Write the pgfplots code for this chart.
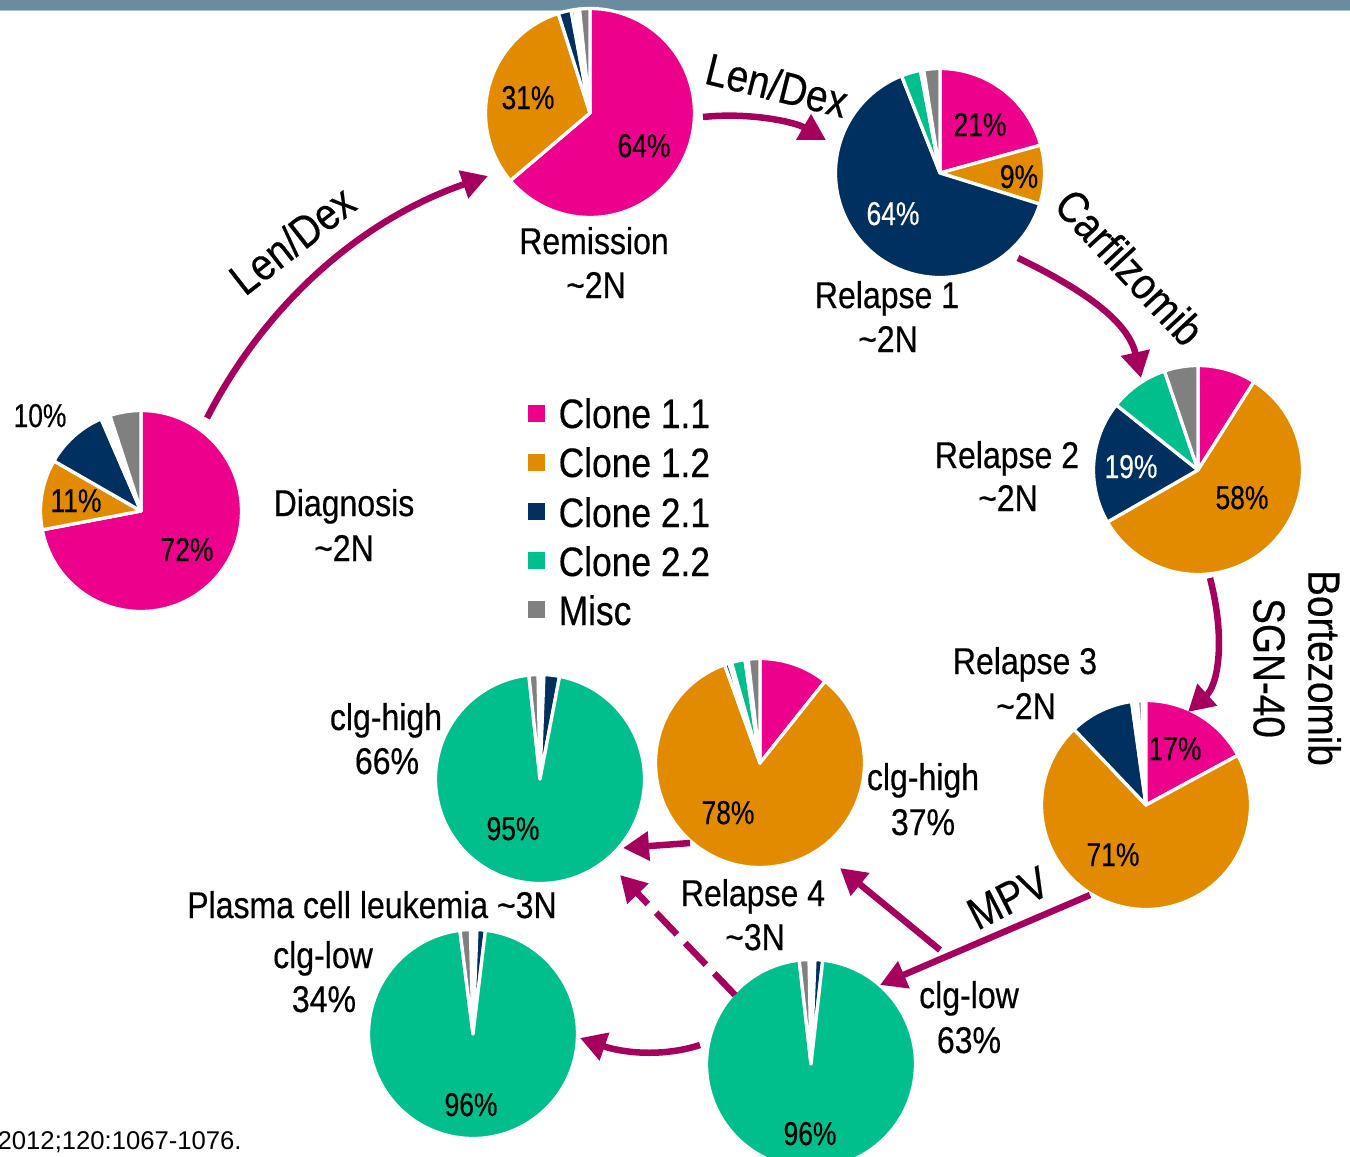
\documentclass[border=0pt]{standalone}
\usepackage{pgfplots}
\pgfplotsset{compat=1.18}
\usepackage{fontspec}
\setmainfont{Liberation Sans}[FakeStretch=0.86,FakeBold=0.4]
\newfontfamily\pctfont{Liberation Sans}[FakeStretch=0.8,FakeBold=0.4]
\newfontfamily\reffont{Liberation Sans}
\usetikzlibrary{arrows.meta}
\definecolor{cpink}{HTML}{EC008C}
\definecolor{corange}{HTML}{E38B00}
\definecolor{cnavy}{HTML}{00305F}
\definecolor{cteal}{HTML}{00BF8C}
\definecolor{cgray}{HTML}{808080}
\definecolor{carrow}{HTML}{A6005F}
\definecolor{cbar}{HTML}{6A8CA1}
\tikzset{
  lbl/.style={font=\fontsize{10.6}{13}\selectfont},
  pct/.style={font=\pctfont\fontsize{9.4}{10}\selectfont},
  trt/.style={font=\fontsize{12.8}{15.6}\selectfont},
  leg/.style={font=\fontsize{11.7}{14}\selectfont},
  arr/.style={draw=carrow,line width=0.65mm,-{Triangle[length=2.6mm,width=2.8mm]}}
}
% pie: centre x, centre y (axis units), radius, list of value/colour clockwise from 12 o'clock
\newcommand\piechart[4]{%
  \gdef\pieacc{0}%
  \foreach \v/\c in {#4}{%
    \pgfmathsetmacro\pa{90-3.6*\pieacc}%
    \pgfmathsetmacro\pb{90-3.6*(\pieacc+\v)}%
    \fill[fill=\c,draw=white,line width=0.33mm,line join=round]
      (axis cs:#1,#2) -- ([shift={(\pa:#3)}]axis cs:#1,#2)
      arc[start angle=\pa,end angle=\pb,radius=#3] -- cycle;
    \pgfmathsetmacro\pn{\pieacc+\v}%
    \xdef\pieacc{\pn}%
  }}
\begin{document}
\begin{tikzpicture}
\begin{axis}[scale only axis,width=135mm,height=115.7mm,
  xmin=0,xmax=1350,ymin=0,ymax=1157,y dir=reverse,hide axis,clip=true]
% top bar
\fill[cbar] (axis cs:0,0) rectangle (axis cs:1350,9.5);
\fill[cbar!55] (axis cs:0,9.5) rectangle (axis cs:1350,11);
\pgfplotsextra{%
  % Diagnosis
  \piechart{141}{511}{10.05mm}{72/cpink,11.3/corange,10.2/cnavy,0.5/cteal,1.0/white,5.0/cgray}%
  % Remission
  \piechart{590}{113}{10.45mm}{63.8/cpink,31.3/corange,2.0/cnavy,0.6/cteal,0.7/white,1.6/cgray}%
  % Relapse 1
  \piechart{940}{173}{10.45mm}{20.7/cpink,9.1/corange,64.2/cnavy,3.0/cteal,0.5/white,2.5/cgray}%
  % Relapse 2
  \piechart{1198}{470}{10.45mm}{9.0/cpink,57.7/corange,19.0/cnavy,9.1/cteal,5.2/cgray}%
  % Relapse 3
  \piechart{1146}{805}{10.45mm}{17.1/cpink,70.8/corange,9.9/cnavy,0.5/cteal,0.4/white,0.7/cgray}%
  % Relapse 4 clg-high
  \piechart{760}{763}{10.45mm}{10.7/cpink,83.8/corange,0.7/cnavy,0.4/white,2.1/cteal,0.5/white,1.8/cgray}%
  % PCL clg-high
  \piechart{540}{779}{10.45mm}{0.6/white,2.4/cnavy,95.3/cteal,1.4/cgray}%
  % PCL clg-low
  \piechart{473}{1034}{10.45mm}{0.6/white,1.3/cnavy,96.1/cteal,1.6/cgray}%
  % Relapse 4 clg-low
  \piechart{811}{1064}{10.45mm}{0.6/white,1.2/cnavy,96.4/cteal,1.5/cgray}%
}
% arrows
\draw[arr] (axis cs:207,418) .. controls (axis cs:265,305) and (axis cs:360,220) .. (axis cs:488,176);
\draw[arr] (axis cs:703,117) .. controls (axis cs:750,112) and (axis cs:795,122) .. (axis cs:826,140);
\draw[arr] (axis cs:1018,258) .. controls (axis cs:1080,288) and (axis cs:1128,320) .. (axis cs:1141,378);
\draw[arr] (axis cs:1210,578) .. controls (axis cs:1226,640) and (axis cs:1218,685) .. (axis cs:1188,712);
\draw[arr] (axis cs:1090,895) -- (axis cs:880,985);
\draw[arr] (axis cs:940,950) -- (axis cs:840,868);
\draw[arr] (axis cs:690,843) -- (axis cs:623,848);
\draw[arr,dash pattern=on 3mm off 1.2mm] (axis cs:735,995) -- (axis cs:620,875);
\draw[arr] (axis cs:700,1045) .. controls (axis cs:660,1058) and (axis cs:620,1052) .. (axis cs:580,1038);
% treatment labels
\node[trt,rotate=38] at (axis cs:292,240) {Len/Dex};
\node[trt,rotate=-14] at (axis cs:777,85) {Len/Dex};
\node[trt,rotate=-47] at (axis cs:1130,267) {Carfilzomib};
\node[trt,rotate=-90,align=center] at (axis cs:1297,668) {Bortezomib\\SGN-40};
\node[trt,rotate=27] at (axis cs:1008,898) {MPV};
% stage labels
\node[lbl,anchor=base] at (axis cs:594,254) {Remission};
\node[lbl,anchor=base] at (axis cs:596,298) {\textasciitilde2N};
\node[lbl,anchor=base] at (axis cs:887,308) {Relapse 1};
\node[lbl,anchor=base] at (axis cs:888,352) {\textasciitilde2N};
\node[lbl,anchor=base] at (axis cs:344,516) {Diagnosis};
\node[lbl,anchor=base] at (axis cs:344,561) {\textasciitilde2N};
\node[lbl,anchor=base] at (axis cs:1007,468) {Relapse 2};
\node[lbl,anchor=base] at (axis cs:1008,511) {\textasciitilde2N};
\node[lbl,anchor=base] at (axis cs:1025,674) {Relapse 3};
\node[lbl,anchor=base] at (axis cs:1026,719) {\textasciitilde2N};
\node[lbl,anchor=base] at (axis cs:386,730) {clg-high};
\node[lbl,anchor=base] at (axis cs:387,774) {66\%};
\node[lbl,anchor=base] at (axis cs:923,790) {clg-high};
\node[lbl,anchor=base] at (axis cs:923,835) {37\%};
\node[lbl,anchor=base] at (axis cs:753,906) {Relapse 4};
\node[lbl,anchor=base] at (axis cs:755,950) {\textasciitilde3N};
\node[lbl,anchor=base] at (axis cs:372,918) {Plasma cell leukemia \textasciitilde3N};
\node[lbl,anchor=base] at (axis cs:323,968) {clg-low};
\node[lbl,anchor=base] at (axis cs:324,1012) {34\%};
\node[lbl,anchor=base] at (axis cs:969,1008) {clg-low};
\node[lbl,anchor=base] at (axis cs:969,1053) {63\%};
% percentage labels
\node[pct,anchor=base] at (axis cs:187,561) {72\%};
\node[pct,anchor=base] at (axis cs:76,512) {11\%};
\node[pct,anchor=base] at (axis cs:40,427) {10\%};
\node[pct,anchor=base] at (axis cs:528,109) {31\%};
\node[pct,anchor=base] at (axis cs:644,157) {64\%};
\node[pct,anchor=base] at (axis cs:980,136) {21\%};
\node[pct,anchor=base] at (axis cs:1019,188) {9\%};
\node[pct,anchor=base,white] at (axis cs:893,225) {64\%};
\node[pct,anchor=base,white] at (axis cs:1131,478) {19\%};
\node[pct,anchor=base] at (axis cs:1242,509) {58\%};
\node[pct,anchor=base] at (axis cs:1175,760) {17\%};
\node[pct,anchor=base] at (axis cs:1113,866) {71\%};
\node[pct,anchor=base] at (axis cs:728,824) {78\%};
\node[pct,anchor=base] at (axis cs:513,840) {95\%};
\node[pct,anchor=base] at (axis cs:471,1116) {96\%};
\node[pct,anchor=base] at (axis cs:810,1145) {96\%};
% legend
\fill[cpink] (axis cs:528,405) rectangle (axis cs:545,422);
\fill[corange] (axis cs:528,454) rectangle (axis cs:545,471);
\fill[cnavy] (axis cs:528,503) rectangle (axis cs:545,520);
\fill[cteal] (axis cs:528,552) rectangle (axis cs:545,569);
\fill[cgray] (axis cs:528,601) rectangle (axis cs:545,618);
\node[leg,anchor=base west,inner sep=0pt] at (axis cs:558,428) {Clone 1.1};
\node[leg,anchor=base west,inner sep=0pt] at (axis cs:558,477) {Clone 1.2};
\node[leg,anchor=base west,inner sep=0pt] at (axis cs:558,527) {Clone 2.1};
\node[leg,anchor=base west,inner sep=0pt] at (axis cs:558,576) {Clone 2.2};
\node[leg,anchor=base west,inner sep=0pt] at (axis cs:558,625) {Misc};
% reference
\node[anchor=base west,inner sep=0pt,font=\reffont\fontsize{7.3}{9}\selectfont] at (axis cs:-3,1149) {2012;120:1067-1076.};
\end{axis}
\end{tikzpicture}
\end{document}
